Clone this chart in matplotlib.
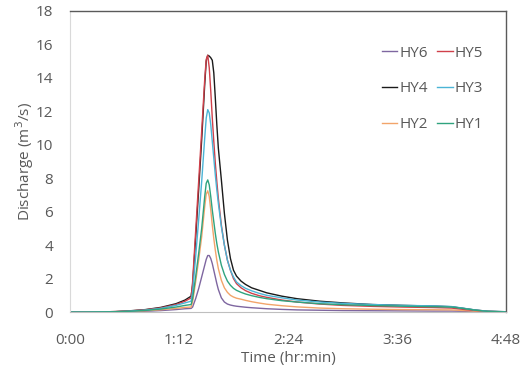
import numpy as np
import matplotlib
matplotlib.use("Agg")
import matplotlib.pyplot as plt

plt.rcParams['font.family'] = ['Open Sans', 'DejaVu Sans']

# time since start of event [min]
t_min = [0, 10, 20, 30, 40, 50, 60, 70, 76, 80, 81, 83, 85, 87, 89, 90, 91, 92, 93,
         94, 95, 96, 97, 98, 100, 102, 104, 106, 108, 110, 113, 116, 120, 125, 130,
         140, 150, 165, 180, 200, 220, 240, 252, 260, 268, 276, 288]

# discharge hydrographs [m3/s]
hy6 = [0, 0, 0.0, 0.01, 0.02, 0.05, 0.09, 0.15, 0.2, 0.22, 0.3, 0.8, 1.4, 2.1, 2.8,
       3.15, 3.38, 3.38, 3.2, 2.9, 2.5, 2.1, 1.7, 1.35, 0.85, 0.6, 0.48, 0.42, 0.38,
       0.35, 0.32, 0.29, 0.26, 0.23, 0.2, 0.16, 0.13, 0.11, 0.09, 0.08, 0.07, 0.06,
       0.06, 0.05, 0.03, 0.02, 0.01]
hy5 = [0, 0, 0.01, 0.03, 0.07, 0.14, 0.25, 0.45, 0.65, 0.85, 1.8, 4.8, 7.8, 10.8,
       13.9, 15.1, 15.35, 14.6, 13.2, 11.6, 10.2, 8.9, 7.8, 6.8, 5.2, 4.0, 3.1, 2.5,
       2.0, 1.7, 1.45, 1.28, 1.12, 0.98, 0.88, 0.72, 0.6, 0.48, 0.4, 0.34, 0.3, 0.27,
       0.24, 0.16, 0.09, 0.04, 0.01]
hy4 = [0, 0, 0.01, 0.03, 0.08, 0.15, 0.28, 0.5, 0.72, 0.95, 1.6, 4.4, 7.3, 10.3,
       13.6, 15.0, 15.35, 15.3, 15.2, 15.05, 14.3, 12.8, 11.2, 9.8, 7.9, 5.9, 4.3,
       3.2, 2.5, 2.15, 1.85, 1.65, 1.45, 1.3, 1.15, 0.95, 0.8, 0.65, 0.55, 0.45, 0.4,
       0.36, 0.32, 0.22, 0.12, 0.05, 0.02]
hy3 = [0, 0, 0.01, 0.02, 0.06, 0.12, 0.22, 0.4, 0.55, 0.65, 1.2, 3.3, 5.5, 7.8,
       10.4, 11.6, 12.1, 11.9, 11.2, 10.2, 9.2, 8.2, 7.3, 6.5, 5.1, 4.0, 3.1, 2.5,
       2.1, 1.8, 1.58, 1.42, 1.27, 1.12, 1.0, 0.85, 0.72, 0.6, 0.52, 0.45, 0.4, 0.37,
       0.33, 0.23, 0.12, 0.05, 0.02]
hy2 = [0, 0, 0.01, 0.02, 0.04, 0.08, 0.14, 0.22, 0.28, 0.3, 0.6, 1.8, 3.1, 4.5,
       6.3, 7.05, 7.25, 6.9, 6.1, 5.2, 4.4, 3.7, 3.1, 2.6, 1.9, 1.45, 1.18, 1.0, 0.9,
       0.83, 0.77, 0.7, 0.62, 0.54, 0.47, 0.38, 0.31, 0.24, 0.2, 0.17, 0.15, 0.14,
       0.13, 0.09, 0.05, 0.02, 0.01]
hy1 = [0, 0, 0.01, 0.02, 0.05, 0.1, 0.18, 0.3, 0.4, 0.45, 0.8, 2.1, 3.5, 5.0, 6.9,
       7.7, 7.9, 7.6, 6.9, 6.1, 5.4, 4.7, 4.1, 3.6, 2.8, 2.25, 1.85, 1.6, 1.42, 1.3,
       1.18, 1.08, 0.98, 0.88, 0.8, 0.68, 0.6, 0.5, 0.44, 0.39, 0.35, 0.32, 0.3, 0.21,
       0.11, 0.04, 0.01]

# legend fills column-wise, so this order gives rows HY6/HY5, HY4/HY3, HY2/HY1
series = [("HY6", hy6, "#7e66a0"), ("HY4", hy4, "#1a1a1a"), ("HY2", hy2, "#f2a46a"),
          ("HY5", hy5, "#d0404a"), ("HY3", hy3, "#4bb4d6"), ("HY1", hy1, "#2fa37e")]

x_ticks = [0, 72, 144, 216, 288]
x_labels = ["0:00", "1:12", "2:24", "3:36", "4:48"]
y_ticks = np.arange(0, 19, 2)

txt = "#595959"

fig = plt.figure(figsize=(5.26, 3.76), dpi=100)
ax = fig.add_axes([0.133, 0.170, 0.829, 0.801])

for name, q, c in series:
    ax.plot(t_min, q, color=c, lw=1.0, label=name)

ax.set_xlim(0, 288)
ax.set_ylim(0, 18)
ax.set_xticks(x_ticks)
ax.set_xticklabels(x_labels)
ax.set_yticks(y_ticks)
ax.tick_params(length=0, labelsize=11, labelcolor=txt)
ax.tick_params(axis="x", pad=15)
ax.tick_params(axis="y", pad=12)

for s in ["top", "right"]:
    ax.spines[s].set_color("#5a5a5a")
    ax.spines[s].set_linewidth(1.0)
ax.spines["left"].set_color("#d9d9d9")
ax.spines["bottom"].set_color("#bfbfbf")

ax.set_xlabel("Time (hr:min)", fontsize=11, color=txt, labelpad=2)
ax.set_ylabel("Discharge (m$^3$/s)", fontsize=11, color=txt, labelpad=0)

leg = ax.legend(ncol=2, loc="upper right", bbox_to_anchor=(0.962, 0.905),
                frameon=False, fontsize=11, handlelength=1.0, handletextpad=0.15,
                columnspacing=0.6, labelspacing=1.35, borderaxespad=0)
for t in leg.get_texts():
    t.set_color(txt)

fig.savefig("out.png", dpi=100)
